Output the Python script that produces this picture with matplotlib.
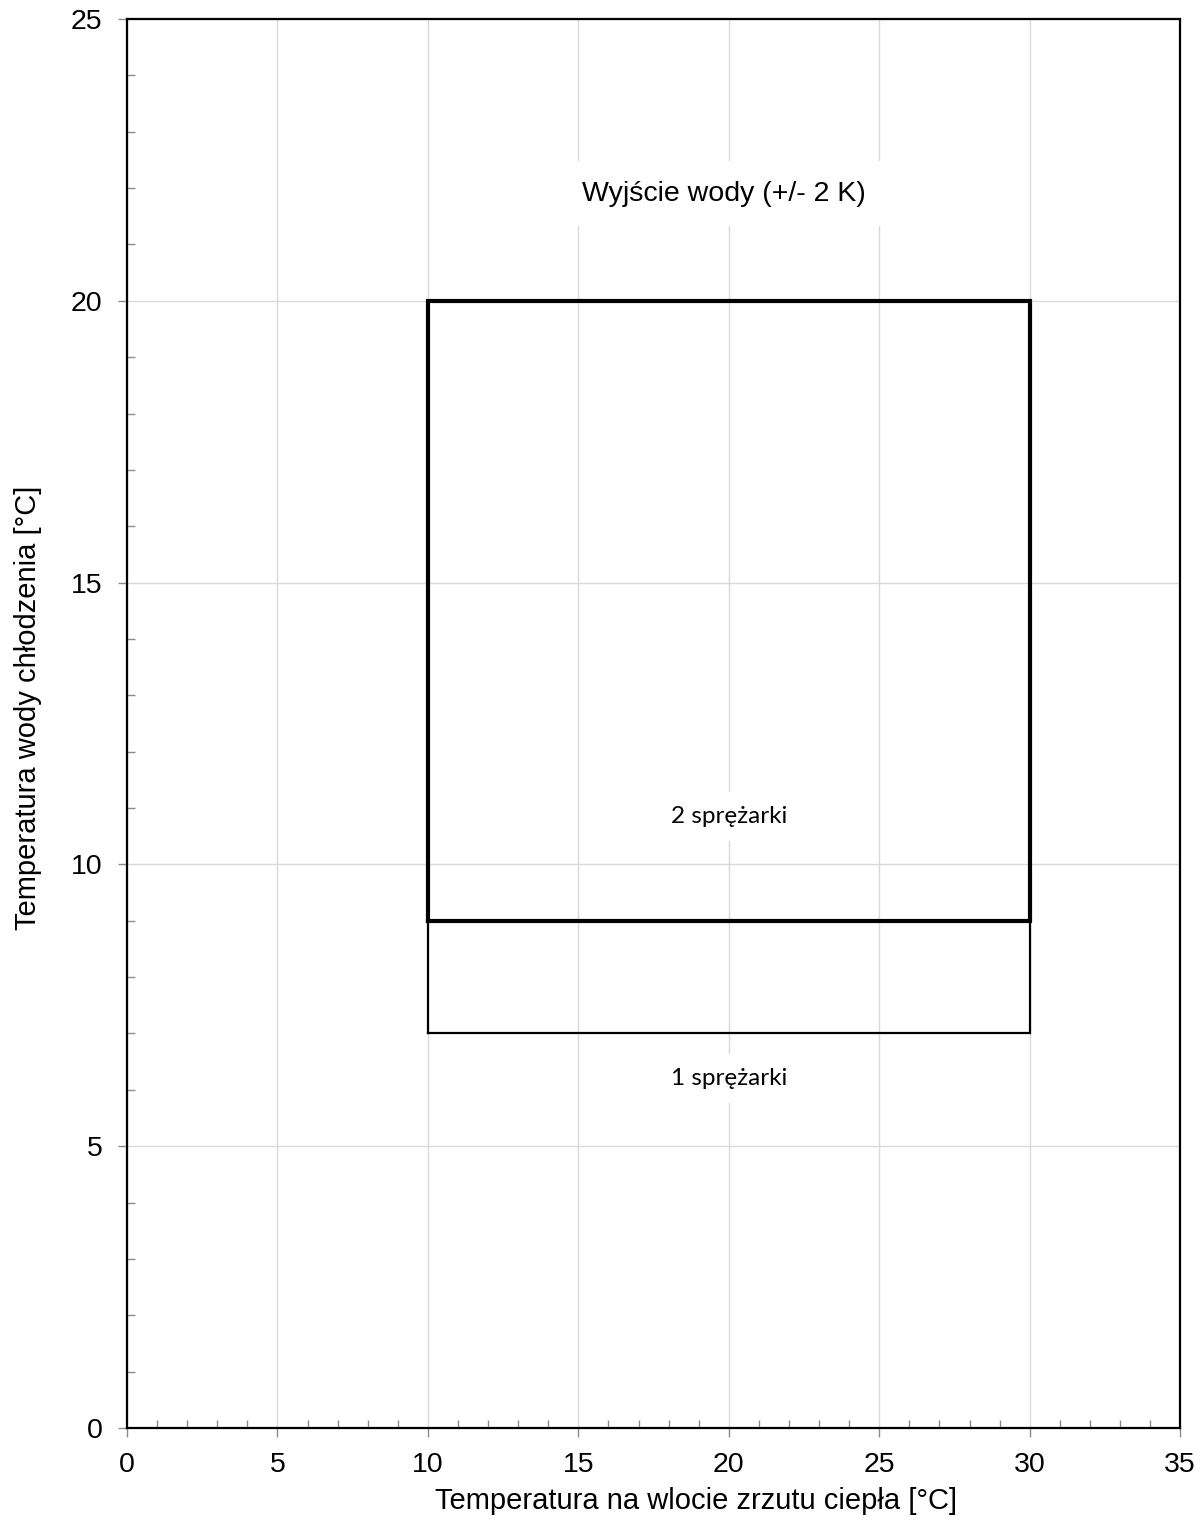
import numpy as np
import matplotlib.pyplot as plt
from matplotlib.ticker import MultipleLocator

# envelope data
box2_x = [10, 30, 30, 10, 10]
box2_y = [9, 9, 20, 20, 9]
box1_x = [10, 30, 30, 10, 10]
box1_y = [7, 7, 9, 9, 7]

x_label = 'Temperatura na wlocie zrzutu ciepła [°C]'
y_label = 'Temperatura wody chłodzenia [°C]'
title_txt = 'Wyjście wody (+/- 2 K)'
lab2 = '2 sprężarki'
lab1 = '1 sprężarki'

plt.rcParams['font.family'] = ['Liberation Sans', 'DejaVu Sans']

fig = plt.figure(figsize=(12.03, 15.35), dpi=100)
ax = fig.add_axes([0.1056, 0.0697, 0.8754, 0.9179])

ax.set_xlim(0, 35)
ax.set_ylim(0, 25)
ax.xaxis.set_major_locator(MultipleLocator(5))
ax.yaxis.set_major_locator(MultipleLocator(5))
ax.xaxis.set_minor_locator(MultipleLocator(1))
ax.yaxis.set_minor_locator(MultipleLocator(1))
ax.grid(True, which='major', color='#d9d9d9', lw=1)
ax.set_axisbelow(True)
ax.tick_params(which='major', direction='out', length=6.5, width=1, color='#8c8c8c', labelsize=20.5, pad=11)
ax.tick_params(which='minor', direction='in', length=6, width=1, color='#8c8c8c')
for s in ax.spines.values():
    s.set_linewidth(1.6)
    s.set_color('black')

ax.plot(box1_x, box1_y, color='black', lw=1.6, solid_joinstyle='miter')
ax.plot(box2_x, box2_y, color='black', lw=3.0, solid_joinstyle='miter')

ax.text(19.85, 21.9, title_txt, ha='center', va='center', fontsize=20.5,
        bbox=dict(facecolor='white', edgecolor='none', pad=14))
ax.text(20, 10.85, lab2, ha='center', va='center', fontsize=17.5, family=['Lato', 'DejaVu Sans'],
        bbox=dict(facecolor='white', edgecolor='none', pad=10))
ax.text(20, 6.2, lab1, ha='center', va='center', fontsize=17.5, family=['Lato', 'DejaVu Sans'],
        bbox=dict(facecolor='white', edgecolor='none', pad=10))

ax.set_xlabel(x_label, fontsize=21)
ax.set_ylabel(y_label, fontsize=21)
ax.xaxis.set_label_coords(0.540, -0.042)
ax.yaxis.set_label_coords(-0.081, 0.511)

fig.savefig('out.png', dpi=100)
